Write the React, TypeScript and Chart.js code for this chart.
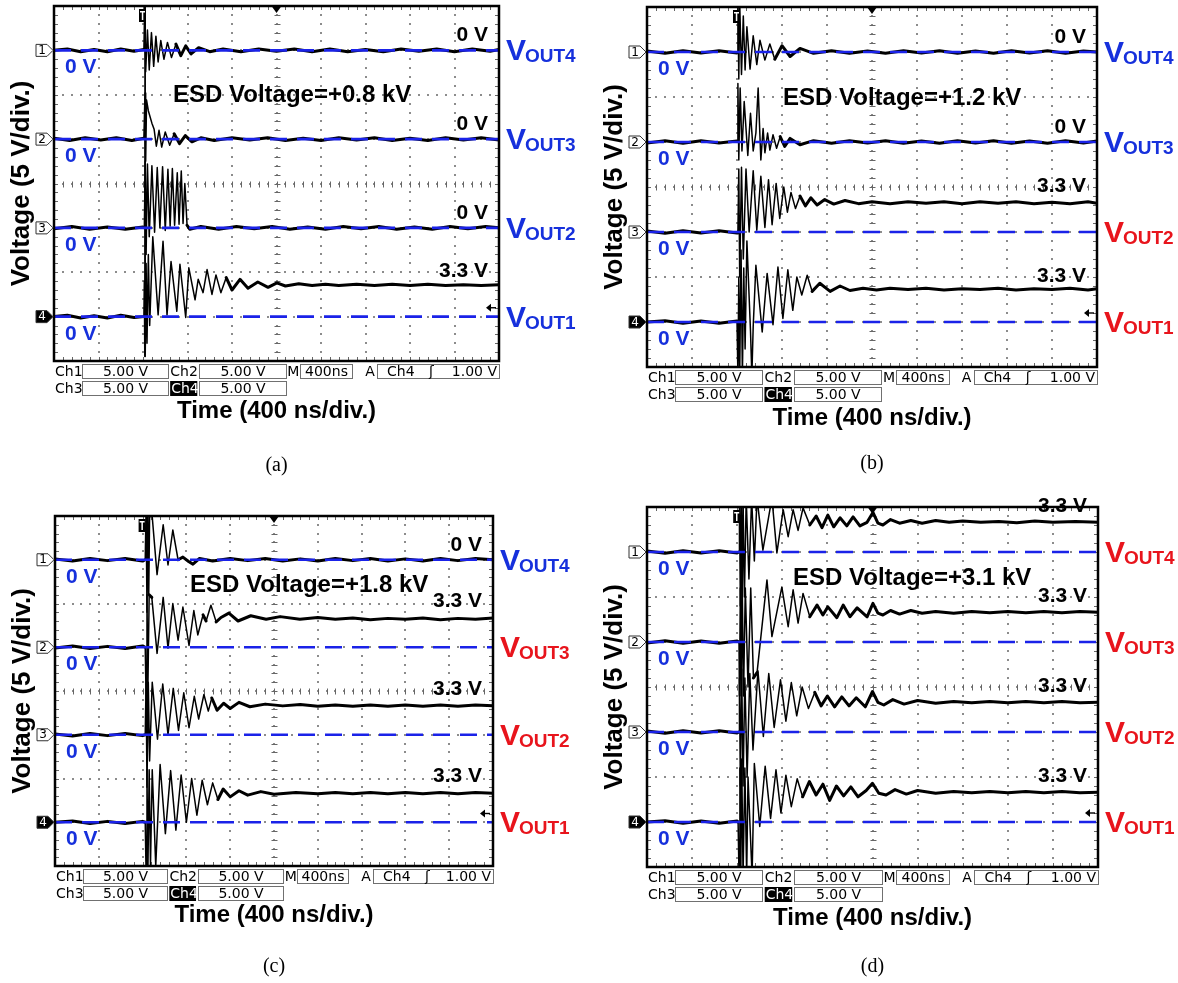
import React, { useEffect, useRef } from "react";
import { Chart, registerables } from "chart.js";

Chart.register(...registerables);

// ---- axes: time in divisions (400 ns/div), voltage 5 V/div, 8 divisions tall ----
const TIME_MIN_DIV = 0;
const TIME_MAX_DIV = 10;
const VOLTS_PER_DIV = 5;
const SCREEN_DIVS = 8;
const CHANNEL_ZERO_DIV = [7, 5, 3, 1]; // Ch1..Ch4 ground marker, divisions from bottom
const CHANNEL_NAMES = ["OUT4", "OUT3", "OUT2", "OUT1"];
const TRIGGER_LEVEL_V = 1.0;
const TRIGGER_POS_DIV = 2.0;

const ESD_LABELS = ["ESD Voltage=+0.8 kV", "ESD Voltage=+1.2 kV", "ESD Voltage=+1.8 kV", "ESD Voltage=+3.1 kV"];
const CAPTIONS = ["(a)", "(b)", "(c)", "(d)"];
const FINAL_LEVELS_A = ["0 V", "0 V", "0 V", "3.3 V"];
const FINAL_LEVELS_B = ["0 V", "0 V", "3.3 V", "3.3 V"];
const FINAL_LEVELS_C = ["0 V", "3.3 V", "3.3 V", "3.3 V"];
const FINAL_LEVELS_D = ["3.3 V", "3.3 V", "3.3 V", "3.3 V"];
const STATUS_SCALE = "5.00 V";
const STATUS_TIMEBASE = "400ns";
const STATUS_TRIGGER = "1.00 V";

// ---- traces: [time (div), volts] ----
const A_VOUT4 = [[0,0],[0.3,0.15],[0.6,-0.15],[0.9,0.1],[1.2,-0.15],[1.5,0.15],[1.8,-0.1],[2.02,0.1],[2.04,5.5],[2.06,-2.4],[2.1,2.3],[2.14,-2.2],[2.19,2.0],[2.24,-1.8],[2.29,1.6],[2.34,-1.3],[2.4,1.1],[2.47,-1.0],[2.55,0.9],[2.64,-0.8],[2.74,0.7],[2.85,-0.6],[2.96,0.5],[3.08,-0.4],[3.25,0.3],[3.5,-0.15],[3.8,0.15],[4.2,-0.15],[4.6,0.15],[5.0,-0.1],[5.4,0.15],[5.8,-0.15],[6.2,0.15],[6.6,-0.15],[7.0,0.1],[7.4,-0.15],[7.8,0.15],[8.2,-0.1],[8.6,0.15],[9.0,-0.15],[9.4,0.15],[9.8,-0.1],[10,0.1]];
const A_VOUT3 = [[0,0.1],[0.35,-0.15],[0.7,0.15],[1.05,-0.1],[1.4,0.15],[1.75,-0.15],[2.02,0.1],[2.045,5.2],[2.06,-2.5],[2.08,4.4],[2.12,3.2],[2.16,2.5],[2.2,1.8],[2.25,1.1],[2.3,-0.8],[2.36,1.0],[2.42,-0.9],[2.5,0.8],[2.6,-0.7],[2.7,0.6],[2.82,-0.5],[2.95,0.4],[3.1,-0.3],[3.3,0.15],[3.6,-0.15],[4.0,0.15],[4.4,-0.1],[4.8,0.15],[5.2,-0.15],[5.6,0.1],[6.0,-0.15],[6.4,0.15],[6.8,-0.1],[7.2,0.15],[7.6,-0.15],[8.0,0.1],[8.4,-0.15],[8.8,0.15],[9.2,-0.1],[9.6,0.15],[10,-0.1]];
const A_VOUT2 = [[0,-0.1],[0.4,0.15],[0.8,-0.15],[1.2,0.1],[1.6,-0.15],[2.0,0.1],[2.03,0],[2.05,7.5],[2.07,-3],[2.1,7.2],[2.14,-1],[2.2,7.0],[2.26,-0.5],[2.32,6.8],[2.38,0],[2.44,6.9],[2.5,-0.3],[2.56,6.6],[2.61,0.2],[2.66,6.7],[2.71,0.3],[2.77,6.2],[2.81,0.4],[2.86,6.4],[2.9,0.5],[2.94,5.0],[2.99,0.3],[3.05,-0.15],[3.3,0.15],[3.7,-0.15],[4.1,0.15],[4.5,-0.1],[4.9,0.15],[5.3,-0.15],[5.7,0.1],[6.1,-0.15],[6.5,0.15],[6.9,-0.1],[7.3,0.15],[7.7,-0.15],[8.1,0.1],[8.5,-0.15],[8.9,0.15],[9.3,-0.1],[9.7,0.15],[10,0]];
const A_VOUT1 = [[0,0],[0.3,0.15],[0.6,-0.15],[0.9,0.1],[1.2,-0.15],[1.5,0.15],[1.8,-0.1],[2.02,0],[2.03,4],[2.04,-4.5],[2.045,36],[2.05,-4.5],[2.07,6],[2.09,-3],[2.12,7],[2.15,-1],[2.22,9.0],[2.34,0.2],[2.45,8.5],[2.54,0.2],[2.63,6.2],[2.76,0.6],[2.83,5.9],[2.96,-0.1],[3.03,5.5],[3.17,1.9],[3.24,4.2],[3.35,2.7],[3.44,5.3],[3.55,2.5],[3.64,4.7],[3.75,2.7],[3.87,4.4],[4.0,3.0],[4.18,4.2],[4.36,3.2],[4.58,3.9],[4.81,3.3],[5.01,3.8],[5.2,3.45],[5.5,3.7],[5.8,3.5],[6.1,3.65],[6.4,3.5],[6.8,3.65],[7.2,3.5],[7.6,3.65],[8.0,3.5],[8.4,3.65],[8.8,3.5],[9.2,3.6],[9.6,3.5],[10,3.6]];

const B_VOUT4 = [[0,0.1],[0.4,-0.15],[0.8,0.15],[1.2,-0.1],[1.6,0.15],[2.0,-0.1],[2.02,5.5],[2.04,-3],[2.06,5.5],[2.1,-2.5],[2.14,4],[2.18,-2],[2.22,2.8],[2.29,-1.9],[2.36,1.8],[2.44,-1.4],[2.51,1.3],[2.62,-0.9],[2.73,0.9],[2.84,-0.8],[3.0,0.7],[3.18,-0.5],[3.4,0.4],[3.7,-0.15],[4.1,0.15],[4.5,-0.15],[4.9,0.1],[5.3,-0.15],[5.7,0.15],[6.1,-0.1],[6.5,0.15],[6.9,-0.15],[7.3,0.1],[7.7,-0.15],[8.1,0.15],[8.5,-0.1],[8.9,0.15],[9.3,-0.15],[9.7,0.1],[10,0]];
const B_VOUT3 = [[0,-0.1],[0.4,0.15],[0.8,-0.15],[1.2,0.15],[1.6,-0.1],[2.0,0.1],[2.02,6.5],[2.04,-2],[2.07,6],[2.11,-1],[2.16,4.5],[2.24,-1.5],[2.3,3.2],[2.36,-1],[2.42,1],[2.47,6.0],[2.53,-2],[2.58,1.5],[2.62,-1.2],[2.68,1.0],[2.73,-0.9],[2.8,0.8],[2.88,-0.7],[2.96,0.6],[3.06,-0.5],[3.18,0.4],[3.4,-0.3],[3.7,0.15],[4.1,-0.15],[4.5,0.15],[4.9,-0.1],[5.3,0.15],[5.7,-0.15],[6.1,0.1],[6.5,-0.15],[6.9,0.15],[7.3,-0.1],[7.7,0.15],[8.1,-0.15],[8.5,0.1],[8.9,-0.15],[9.3,0.15],[9.7,-0.1],[10,0.1]];
const B_VOUT2 = [[0,0.1],[0.4,-0.15],[0.8,0.15],[1.2,-0.1],[1.6,0.15],[2.0,-0.1],[2.02,0],[2.04,7],[2.06,-5],[2.1,7.2],[2.14,-3],[2.2,7],[2.27,0],[2.36,6.8],[2.44,0.2],[2.53,6.2],[2.62,0.5],[2.7,5.8],[2.78,0.8],[2.87,5.4],[2.95,1.5],[3.04,5.0],[3.12,2.2],[3.2,4.4],[3.3,2.6],[3.4,4.0],[3.52,2.9],[3.64,3.8],[3.78,3.0],[3.95,3.6],[4.15,3.1],[4.4,3.5],[4.7,3.15],[5.0,3.35],[5.4,3.15],[5.8,3.35],[6.2,3.2],[6.6,3.35],[7.0,3.15],[7.4,3.35],[7.8,3.2],[8.2,3.35],[8.6,3.15],[9.0,3.3],[9.4,3.15],[9.8,3.35],[10,3.2]];
const B_VOUT1 = [[0,0],[0.4,0.15],[0.8,-0.15],[1.2,0.1],[1.6,-0.15],[2.0,0.1],[2.02,-6],[2.04,5],[2.06,-6],[2.09,8],[2.12,-6],[2.15,6],[2.18,-3],[2.22,9],[2.3,-1],[2.33,-6],[2.36,-0.5],[2.42,6.3],[2.56,-1.1],[2.67,5.4],[2.8,-0.3],[2.91,6.1],[3.02,0.4],[3.13,5.8],[3.24,1.3],[3.33,5.0],[3.44,3.0],[3.56,5.2],[3.67,3.4],[3.84,4.3],[4.07,3.4],[4.29,4.0],[4.51,3.5],[4.8,3.75],[5.1,3.55],[5.4,3.75],[5.8,3.6],[6.2,3.75],[6.6,3.55],[7.0,3.7],[7.4,3.6],[7.8,3.75],[8.2,3.55],[8.6,3.7],[9.0,3.6],[9.4,3.75],[9.8,3.55],[10,3.7]];

const C_VOUT4 = [[0,0.1],[0.4,-0.15],[0.8,0.15],[1.2,-0.1],[1.6,0.15],[2.0,-0.15],[2.06,0],[2.08,6],[2.1,-6],[2.12,6],[2.14,-4],[2.16,5],[2.21,5.5],[2.33,-1.7],[2.47,4.0],[2.58,-0.6],[2.69,3.4],[2.81,0],[2.92,0.3],[3.05,-0.2],[3.15,-0.5],[3.3,0.15],[3.6,-0.15],[4.0,0.15],[4.4,-0.1],[4.8,0.15],[5.2,-0.15],[5.6,0.1],[6.0,-0.15],[6.4,0.15],[6.8,-0.1],[7.2,0.15],[7.6,-0.15],[8.0,0.1],[8.4,-0.15],[8.8,0.15],[9.2,-0.1],[9.6,0.15],[10,0]];
const C_VOUT3 = [[0,-0.1],[0.4,0.15],[0.8,-0.15],[1.2,0.1],[1.6,-0.15],[2.0,0.15],[2.06,0],[2.08,-6],[2.1,6],[2.12,-5],[2.15,6],[2.21,5.7],[2.33,-0.7],[2.47,5.7],[2.58,-0.1],[2.69,5.0],[2.81,0.8],[2.92,4.6],[3.06,0.2],[3.17,4.2],[3.26,1.4],[3.38,3.7],[3.45,3.0],[3.56,4.8],[3.68,2.9],[3.79,3.4],[3.97,3.9],[4.18,3.0],[4.47,3.6],[4.82,3.2],[5.14,3.5],[5.59,3.2],[6.0,3.4],[6.4,3.2],[6.8,3.35],[7.2,3.15],[7.6,3.3],[8.0,3.2],[8.4,3.35],[8.8,3.15],[9.2,3.3],[9.6,3.2],[10,3.35]];
const C_VOUT2 = [[0,0.1],[0.4,-0.15],[0.8,0.15],[1.2,-0.1],[1.6,0.15],[2.0,-0.1],[2.06,0],[2.08,6],[2.1,-6],[2.13,6],[2.16,-3],[2.22,6.0],[2.34,-0.5],[2.46,5.8],[2.58,0],[2.7,5.3],[2.82,0.5],[2.94,4.8],[3.06,0.8],[3.18,4.4],[3.28,1.8],[3.4,4.6],[3.5,2.7],[3.58,4.2],[3.7,2.8],[3.85,3.6],[4.0,3.0],[4.2,3.7],[4.45,3.2],[4.8,3.5],[5.2,3.3],[5.6,3.45],[6.0,3.25],[6.4,3.4],[6.8,3.25],[7.2,3.4],[7.6,3.25],[8.0,3.4],[8.4,3.25],[8.8,3.4],[9.2,3.25],[9.6,3.4],[10,3.3]];
const C_VOUT1 = [[0,0],[0.4,0.15],[0.8,-0.15],[1.2,0.1],[1.6,-0.15],[2.0,0.1],[2.06,0],[2.08,-6],[2.1,6],[2.12,-6],[2.15,6],[2.18,-5],[2.22,6],[2.3,-5],[2.4,6.6],[2.52,-1.3],[2.64,5.9],[2.76,-0.9],[2.88,5.4],[3.0,0],[3.12,5.0],[3.24,0.8],[3.36,4.8],[3.48,2.0],[3.6,4.5],[3.72,2.6],[3.84,3.8],[4.0,2.9],[4.2,3.6],[4.4,3.1],[4.7,3.5],[5.0,3.2],[5.5,3.4],[6.0,3.25],[6.4,3.4],[6.8,3.25],[7.2,3.4],[7.6,3.25],[8.0,3.4],[8.4,3.25],[8.8,3.4],[9.2,3.25],[9.6,3.4],[10,3.3]];

const D_VOUT4 = [[0,0.1],[0.4,-0.15],[0.8,0.15],[1.2,-0.1],[1.6,0.15],[2.0,-0.1],[2.04,0],[2.05,6],[2.07,-6],[2.09,6],[2.11,-6],[2.13,6],[2.16,-5],[2.2,6],[2.26,-3],[2.32,6],[2.38,-1],[2.44,6],[2.57,0.2],[2.77,6],[2.88,-0.1],[3.02,4.7],[3.13,1.7],[3.24,4.7],[3.35,2.4],[3.46,4.9],[3.61,3.0],[3.75,4.0],[3.88,2.7],[4.01,4.1],[4.14,2.8],[4.28,3.8],[4.43,2.9],[4.57,3.9],[4.72,2.9],[4.88,3.3],[5.01,4.4],[5.12,3.2],[5.23,3.0],[5.4,3.6],[5.6,3.2],[5.85,3.5],[6.1,3.2],[6.4,3.5],[6.7,3.3],[7.0,3.45],[7.4,3.3],[7.8,3.4],[8.2,3.25],[8.6,3.45],[9.0,3.3],[9.5,3.4],[10,3.3]];
const D_VOUT3 = [[0,-0.1],[0.4,0.15],[0.8,-0.15],[1.2,0.1],[1.6,-0.15],[2.0,0.1],[2.04,0],[2.05,-6],[2.07,6],[2.09,-6],[2.11,7],[2.14,-6],[2.18,6],[2.24,-5],[2.3,6],[2.36,-4],[2.44,-3.4],[2.66,6.9],[2.77,0.6],[2.99,6.1],[3.13,1.7],[3.24,5.8],[3.35,2.1],[3.46,5.4],[3.61,2.8],[3.77,4.1],[3.9,3.0],[4.01,3.9],[4.21,2.7],[4.35,4.1],[4.5,2.8],[4.66,3.8],[4.88,2.8],[5.01,4.3],[5.12,3.2],[5.23,3.0],[5.4,3.5],[5.6,3.1],[5.85,3.5],[6.1,3.2],[6.4,3.4],[6.8,3.2],[7.2,3.4],[7.6,3.25],[8.0,3.4],[8.4,3.25],[8.8,3.4],[9.2,3.25],[9.6,3.4],[10,3.3]];
const D_VOUT2 = [[0,0.1],[0.4,-0.15],[0.8,0.15],[1.2,-0.1],[1.6,0.15],[2.0,-0.1],[2.04,0],[2.05,6],[2.07,-6],[2.1,7],[2.13,-6],[2.17,6],[2.22,-5],[2.28,6.5],[2.35,-2],[2.46,6.8],[2.58,-0.5],[2.7,6.5],[2.82,0.5],[2.96,5.8],[3.08,1.2],[3.2,5.5],[3.32,1.8],[3.44,5.0],[3.58,2.6],[3.72,4.4],[3.86,2.9],[4.0,4.0],[4.16,2.8],[4.32,3.9],[4.48,2.9],[4.64,3.8],[4.84,2.8],[5.0,4.5],[5.12,3.3],[5.25,3.0],[5.45,3.6],[5.7,3.1],[6.0,3.5],[6.4,3.2],[6.8,3.4],[7.2,3.25],[7.6,3.4],[8.0,3.25],[8.4,3.4],[8.8,3.25],[9.2,3.4],[9.6,3.25],[10,3.3]];
const D_VOUT1 = [[0,0],[0.4,0.15],[0.8,-0.15],[1.2,0.1],[1.6,-0.15],[2.0,0.1],[2.02,0],[2.04,-6],[2.06,6],[2.08,-6],[2.1,7],[2.13,-6],[2.17,6],[2.21,-6],[2.24,5],[2.33,-6],[2.38,6.5],[2.5,-0.5],[2.62,6.2],[2.74,0.4],[2.86,5.8],[2.97,1.0],[3.08,5.2],[3.2,1.7],[3.33,4.8],[3.45,2.8],[3.6,4.5],[3.75,3.0],[3.9,4.2],[4.05,2.4],[4.2,4.0],[4.36,2.9],[4.52,3.9],[4.68,2.8],[4.86,3.5],[5.0,4.3],[5.14,3.2],[5.3,3.0],[5.5,3.6],[5.75,3.1],[6.0,3.5],[6.4,3.2],[6.8,3.4],[7.2,3.25],[7.6,3.4],[8.0,3.25],[8.4,3.4],[8.8,3.25],[9.2,3.4],[9.6,3.25],[10,3.3]];

// ---- styling ----
const BLUE = "#1630dc";
const RED = "#e8141c";
const REF_BLUE = "#1a22e8";
const SANS = '"Liberation Sans", Arial, sans-serif';
const SCOPE_FONT = '"DejaVu Sans", Verdana, sans-serif';

type Panel = {
  canvas: { left: number; top: number; width: number; height: number };
  plot: { left: number; top: number; right: number; bottom: number };
  traces: number[][][];
  finals: string[];
  voutColors: string[];
  esd: string;
  esdPos: [number, number];
  timeDy: number;
  captionY: number;
  caption: string;
};

const PANELS: Panel[] = [
  { canvas: { left: 0, top: 0, width: 589, height: 490 }, plot: { left: 54, top: 6, right: 499, bottom: 361 },
    traces: [A_VOUT4, A_VOUT3, A_VOUT2, A_VOUT1], finals: FINAL_LEVELS_A, voutColors: [BLUE, BLUE, BLUE, BLUE],
    esd: ESD_LABELS[0], esdPos: [119, 96], timeDy: 57, captionY: 471, caption: CAPTIONS[0] },
  { canvas: { left: 589, top: 0, width: 589, height: 490 }, plot: { left: 647, top: 7, right: 1097, bottom: 367 },
    traces: [B_VOUT4, B_VOUT3, B_VOUT2, B_VOUT1], finals: FINAL_LEVELS_B, voutColors: [BLUE, BLUE, RED, RED],
    esd: ESD_LABELS[1], esdPos: [136, 98], timeDy: 58, captionY: 469, caption: CAPTIONS[1] },
  { canvas: { left: 0, top: 490, width: 589, height: 493 }, plot: { left: 55, top: 516, right: 493, bottom: 866 },
    traces: [C_VOUT4, C_VOUT3, C_VOUT2, C_VOUT1], finals: FINAL_LEVELS_C, voutColors: [BLUE, RED, RED, RED],
    esd: ESD_LABELS[2], esdPos: [135, 76], timeDy: 56, captionY: 972, caption: CAPTIONS[2] },
  { canvas: { left: 589, top: 490, width: 589, height: 493 }, plot: { left: 647, top: 507, right: 1098, bottom: 867 },
    traces: [D_VOUT4, D_VOUT3, D_VOUT2, D_VOUT1], finals: FINAL_LEVELS_D, voutColors: [RED, RED, RED, RED],
    esd: ESD_LABELS[3], esdPos: [146, 78], timeDy: 58, captionY: 972, caption: CAPTIONS[3] },
];

function drawGrid(chart: any) {
  const { ctx, chartArea: a, scales } = chart;
  const xs = scales.x, ys = scales.y;
  ctx.save();
  ctx.fillStyle = "#8c8c8c";
  for (let g = 1; g < TIME_MAX_DIV; g++) {
    const px = Math.round(xs.getPixelForValue(g));
    for (let k = 1; k < SCREEN_DIVS * 5; k++) {
      const py = Math.round(ys.getPixelForValue(k / 5));
      ctx.fillRect(px - 1, py - 1, 2, 2);
    }
  }
  for (let g = 1; g < SCREEN_DIVS; g++) {
    const py = Math.round(ys.getPixelForValue(g));
    for (let k = 1; k < TIME_MAX_DIV * 5; k++) {
      const px = Math.round(xs.getPixelForValue(k / 5));
      ctx.fillRect(px - 1, py - 1, 2, 2);
    }
  }
  ctx.strokeStyle = "#666";
  ctx.lineWidth = 1;
  ctx.beginPath();
  const cy = Math.round(ys.getPixelForValue(SCREEN_DIVS / 2)) + 0.5;
  const cx = Math.round(xs.getPixelForValue(TIME_MAX_DIV / 2)) + 0.5;
  for (let k = 1; k < TIME_MAX_DIV * 5; k++) {
    const px = Math.round(xs.getPixelForValue(k / 5)) + 0.5;
    ctx.moveTo(px, cy - 3); ctx.lineTo(px, cy + 3);
    ctx.moveTo(px, a.top); ctx.lineTo(px, a.top + 4);
    ctx.moveTo(px, a.bottom); ctx.lineTo(px, a.bottom - 4);
  }
  for (let k = 1; k < SCREEN_DIVS * 5; k++) {
    const py = Math.round(ys.getPixelForValue(k / 5)) + 0.5;
    ctx.moveTo(cx - 3, py); ctx.lineTo(cx + 3, py);
    ctx.moveTo(a.left, py); ctx.lineTo(a.left + 4, py);
    ctx.moveTo(a.right, py); ctx.lineTo(a.right - 4, py);
  }
  ctx.stroke();
  ctx.restore();
}

function drawDecor(chart: any, p: Panel) {
  const { ctx, chartArea: a, scales } = chart;
  const xs = scales.x;
  const W = a.right - a.left;
  ctx.save();
  // frame
  ctx.strokeStyle = "#000";
  ctx.lineWidth = 2.5;
  ctx.strokeRect(a.left, a.top, W, a.bottom - a.top);

  // trigger-position marker and center marker
  const tx = xs.getPixelForValue(TRIGGER_POS_DIV);
  ctx.fillStyle = "#000";
  ctx.fillRect(tx - 4, a.top + 3, 7, 13);
  ctx.fillStyle = "#fff";
  ctx.fillRect(tx - 3, a.top + 5, 5, 1.5);
  ctx.fillRect(tx - 1.2, a.top + 5, 1.5, 9);
  const mx = xs.getPixelForValue(TIME_MAX_DIV / 2);
  ctx.fillStyle = "#000";
  ctx.beginPath();
  ctx.moveTo(mx - 5, a.top); ctx.lineTo(mx + 5, a.top); ctx.lineTo(mx, a.top + 7); ctx.closePath(); ctx.fill();

  // trigger level arrow (Ch4)
  const ty = scales.c4.getPixelForValue(TRIGGER_LEVEL_V);
  ctx.beginPath();
  ctx.moveTo(a.right - 13, ty); ctx.lineTo(a.right - 8, ty - 4); ctx.lineTo(a.right - 8, ty + 4); ctx.closePath(); ctx.fill();
  ctx.fillRect(a.right - 8, ty - 0.7, 5, 1.4);

  for (let i = 0; i < 4; i++) {
    const zy = scales["c" + (i + 1)].getPixelForValue(0);
    // channel ground marker
    ctx.beginPath();
    ctx.moveTo(a.left - 18, zy - 6); ctx.lineTo(a.left - 7, zy - 6); ctx.lineTo(a.left - 1, zy);
    ctx.lineTo(a.left - 7, zy + 6); ctx.lineTo(a.left - 18, zy + 6); ctx.closePath();
    ctx.fillStyle = i === 3 ? "#000" : "#fff";
    ctx.fill();
    ctx.strokeStyle = "#333"; ctx.lineWidth = 1; ctx.stroke();
    ctx.fillStyle = i === 3 ? "#fff" : "#000";
    ctx.font = "12px " + SCOPE_FONT;
    ctx.textAlign = "center"; ctx.textBaseline = "middle";
    ctx.fillText(String(i + 1), a.left - 12, zy + 0.5);

    // 0 V under the line, blue
    ctx.textBaseline = "alphabetic";
    ctx.textAlign = "left";
    ctx.font = "bold 21px " + SANS;
    ctx.fillStyle = BLUE;
    ctx.fillText("0 V", a.left + 11, zy + 23);

    // final level, black, right
    const fin = p.finals[i];
    ctx.fillStyle = "#000";
    ctx.textAlign = "right";
    ctx.fillText(fin, a.right - 11, fin === "0 V" ? zy - 9 : zy - 40);

    // V_OUTn label
    ctx.textAlign = "left";
    ctx.fillStyle = p.voutColors[i];
    ctx.font = "bold 30px " + SANS;
    const vx = a.right + 7;
    ctx.fillText("V", vx, zy + 10);
    const vw = ctx.measureText("V").width;
    ctx.font = "bold 19px " + SANS;
    ctx.fillText(CHANNEL_NAMES[i], vx + vw - 1, zy + 12);
  }

  // ESD label
  ctx.fillStyle = "#000";
  ctx.textAlign = "left";
  ctx.font = "bold 24px " + SANS;
  ctx.fillText(p.esd, a.left + p.esdPos[0], a.top + p.esdPos[1]);

  // status bar
  const fx = (f: number) => a.left + f * W;
  const r1 = a.bottom + 3, r2 = a.bottom + 20, h = 14;
  ctx.font = "14px " + SCOPE_FONT;
  ctx.textBaseline = "middle";
  ctx.strokeStyle = "#707070";
  ctx.lineWidth = 1;
  const box = (f0: number, f1: number, r: number, text: string) => {
    const x0 = Math.round(fx(f0)) + 0.5, x1 = Math.round(fx(f1)) + 0.5;
    ctx.strokeRect(x0, r + 0.5, x1 - x0, h);
    if (text) { ctx.textAlign = "center"; ctx.fillStyle = "#000"; ctx.fillText(text, (x0 + x1) / 2, r + h / 2 + 1); }
  };
  const label = (f: number, r: number, text: string) => {
    ctx.textAlign = "left"; ctx.fillStyle = "#000"; ctx.fillText(text, fx(f) + 1, r + h / 2 + 1);
  };
  label(0, r1, "Ch1"); box(0.063, 0.256, r1, STATUS_SCALE);
  label(0.259, r1, "Ch2"); box(0.326, 0.521, r1, STATUS_SCALE);
  label(0.522, r1, "M"); box(0.553, 0.670, r1, STATUS_TIMEBASE);
  label(0.697, r1, "A"); box(0.726, 1.0, r1, "");
  ctx.textAlign = "left"; ctx.fillText("Ch4", fx(0.726) + 10, r1 + h / 2 + 1);
  ctx.fillText("\u0283", fx(0.726) + 52, r1 + h / 2 + 1);
  ctx.textAlign = "right"; ctx.fillText(STATUS_TRIGGER, fx(1.0) - 2, r1 + h / 2 + 1);
  label(0, r2, "Ch3"); box(0.063, 0.256, r2, STATUS_SCALE);
  ctx.fillStyle = "#000";
  ctx.fillRect(fx(0.261), r2, fx(0.322) - fx(0.261), h + 1);
  ctx.fillStyle = "#fff"; ctx.textAlign = "left"; ctx.fillText("Ch4", fx(0.261) + 1, r2 + h / 2 + 1);
  box(0.326, 0.521, r2, STATUS_SCALE);

  // axis titles
  ctx.fillStyle = "#000";
  ctx.textBaseline = "alphabetic";
  ctx.textAlign = "center";
  ctx.font = "bold 24px " + SANS;
  ctx.fillText("Time (400 ns/div.)", (a.left + a.right) / 2, a.bottom + p.timeDy);
  ctx.save();
  ctx.translate(a.left - 32, (a.top + a.bottom) / 2);
  ctx.rotate(-Math.PI / 2);
  ctx.textBaseline = "middle";
  ctx.font = "bold 26px " + SANS;
  ctx.fillText("Voltage (5 V/div.)", 0, 0);
  ctx.restore();

  // caption
  ctx.font = '20px "Liberation Serif", "Times New Roman", serif';
  ctx.textAlign = "center";
  ctx.fillText(p.caption, (a.left + a.right) / 2, p.captionY - p.canvas.top);
  ctx.restore();
}

function ScopePanel({ p }: { p: Panel }) {
  const ref = useRef<HTMLCanvasElement | null>(null);
  useEffect(() => {
    const canvas = ref.current;
    if (!canvas) return;
    const scales: any = {
      x: { type: "linear", min: TIME_MIN_DIV, max: TIME_MAX_DIV, display: false },
      y: { type: "linear", min: 0, max: SCREEN_DIVS, display: false },
    };
    CHANNEL_ZERO_DIV.forEach((z, i) => {
      scales["c" + (i + 1)] = { type: "linear", min: -z * VOLTS_PER_DIV, max: (SCREEN_DIVS - z) * VOLTS_PER_DIV, display: false };
    });
    const datasets: any[] = [];
    p.traces.forEach((tr, i) => {
      datasets.push({
        data: [{ x: TIME_MIN_DIV, y: 0 }, { x: TIME_MAX_DIV, y: 0 }],
        yAxisID: "c" + (i + 1),
        borderColor: REF_BLUE,
        borderWidth: 2.6,
        borderDash: [17, 10],
        pointRadius: 0,
        order: 1,
      });
      datasets.push({
        data: tr.map(([x, y]) => ({ x, y })),
        yAxisID: "c" + (i + 1),
        borderColor: "#000",
        borderWidth: 1.5,
        borderCapStyle: "round",
        borderJoinStyle: "round",
        pointRadius: 0,
        order: 2,
        segment: {
          borderWidth: (c: any) => {
            const dx = Math.abs(c.p1.x - c.p0.x);
            const dy = Math.abs(c.p1.y - c.p0.y);
            return dy > 2.5 * dx ? 1.5 : 3;
          },
        },
      });
    });
    const pad = {
      left: p.plot.left - p.canvas.left,
      top: p.plot.top - p.canvas.top,
      right: p.canvas.left + p.canvas.width - p.plot.right,
      bottom: p.canvas.top + p.canvas.height - p.plot.bottom,
    };
    const chart = new Chart(canvas, {
      type: "line",
      data: { datasets },
      options: {
        animation: false,
        responsive: false,
        maintainAspectRatio: false,
        devicePixelRatio: 1,
        events: [],
        layout: { padding: pad },
        plugins: { legend: { display: false }, tooltip: { enabled: false } },
        elements: { line: { tension: 0, fill: false }, point: { radius: 0 } },
        scales,
      } as any,
      plugins: [
        {
          id: "scopeOverlay",
          beforeDatasetsDraw: (c: any) => drawGrid(c),
          afterDatasetsDraw: (c: any) => drawDecor(c, p),
        },
      ],
    });
    return () => chart.destroy();
  }, [p]);
  return (
    <canvas
      ref={ref}
      width={p.canvas.width}
      height={p.canvas.height}
      style={{ position: "absolute", left: p.canvas.left, top: p.canvas.top, width: p.canvas.width, height: p.canvas.height }}
    />
  );
}

export default function App() {
  return (
    <div style={{ position: "absolute", left: 0, top: 0, width: 1178, height: 983, background: "#fff" }}>
      {PANELS.map((p, i) => (
        <ScopePanel key={i} p={p} />
      ))}
    </div>
  );
}
